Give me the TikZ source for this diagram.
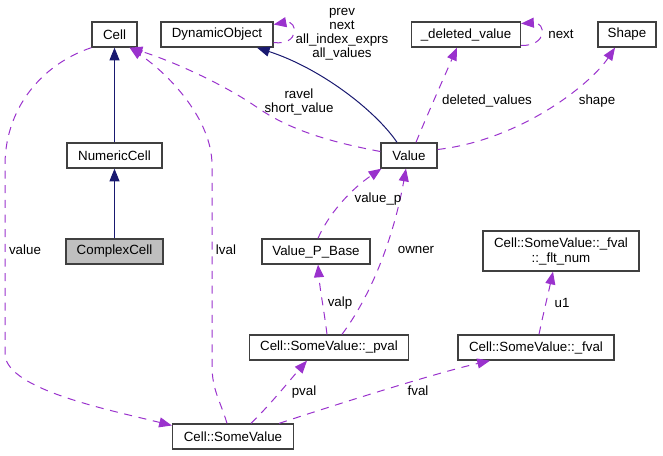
\documentclass[tikz,border=0pt]{standalone}
\usepackage{fontspec}
\setmainfont{Liberation Sans}
\usetikzlibrary{arrows.meta, positioning, calc}
\definecolor{edgenavy}{RGB}{25, 25, 112}
\definecolor{edgepurple}{RGB}{154, 50, 205}
\definecolor{boxline}{RGB}{64, 64, 64}
\definecolor{boxgrey}{RGB}{191, 191, 191}
\tikzset{
  cbox/.style={
    rectangle, draw=boxline, line width=1pt, fill=white,
    font=\fontsize{10}{11.25}\selectfont, align=center,
    inner sep=0pt, minimum height=18.75pt
  },
  gbox/.style={cbox, fill=boxgrey},
  wd/.style={minimum width=#1*0.75pt},
  inh/.style={-{Triangle[length=9.5pt,width=7.5pt]}, edgenavy, line width=0.75pt},
  mem/.style={-{Triangle[length=9.5pt,width=7.5pt]}, edgepurple, line width=0.75pt,
    dash pattern=on 6pt off 5pt},
  lbl/.style={font=\fontsize{10}{10.5}\selectfont, align=center, inner sep=0pt},
}
\begin{document}
\begin{tikzpicture}[x=0.75pt, y=-0.75pt]
    \useasboundingbox (0,0) rectangle (663,456);

    \node[cbox, wd=45]  (cell)    at (114.5,34.5) {Cell};
    \node[cbox, wd=112] (dyn)     at (217,34.5)   {DynamicObject};
    \node[cbox, wd=109] (delv)    at (466,34.5)   {\_deleted\_value};
    \node[cbox, wd=58]  (shape)   at (627,34.5)   {Shape};
    \node[cbox, wd=95]  (numeric) at (114.5,155.5) {NumericCell};
    \node[cbox, wd=56]  (value)   at (409,155.5)  {Value};
    \node[gbox, wd=97]  (complex) at (114.5,251.5) {ComplexCell};
    \node[cbox, wd=108] (vpb)     at (316,251.5)  {Value\_P\_Base};
    \node[cbox, wd=156, minimum height=30pt] (flt) at (561,251)
        {Cell::SomeValue::\_fval\\::\_flt\_num};
    \node[cbox, wd=159] (pval)    at (329,347.5)  {Cell::SomeValue::\_pval};
    \node[cbox, wd=156] (fval)    at (536,347.5)  {Cell::SomeValue::\_fval};
    \node[cbox, wd=121] (sv)      at (233,436.5)  {Cell::SomeValue};

    % inheritance
    \draw[inh] (numeric) -- (cell);
    \draw[inh] (complex) -- (numeric);
    \draw[inh] ($(value.north)+(-12,0)$) .. controls (375,110) and (320,68) .. ($(dyn.south)+(40,0)$);

    % members
    \draw[mem] ($(dyn.east)+(0,8)$) .. controls (300,46) and (298,20) .. ($(dyn.east)+(0,-10)$);
    \draw[mem] ($(delv.east)+(0,11)$) .. controls (548,46) and (546,22) .. ($(delv.east)+(0,-11)$);
    \draw[mem] ($(value.north)+(7,0)$) .. controls (425,120) and (445,75) .. ($(delv.south)+(-9,0)$);
    \draw[mem] ($(value.east)+(0,-6)$) .. controls (520,140) and (590,85) .. ($(shape.south)+(-12,0)$);
    \draw[mem] ($(value.west)+(0,-4)$) .. controls (330,142) and (290,130) .. (258,108)
        .. controls (225,85) and (175,62) .. ($(cell.south east)+(-8,0)$);
    \draw[mem] ($(sv.north)+(-6,0)$) .. controls (220,400) and (212,390) .. (212,365)
        -- (212,165) .. controls (212,120) and (170,75) .. ($(cell.south east)+(-8,0)$);
    \draw[mem] (cell.south west) .. controls (40,65) and (5,110) .. (5,165)
        -- (5,355) .. controls (8,390) and (110,410) .. ($(sv.west)+(0,-11)$);
    \draw[mem] ($(sv.north)+(18,0)$) .. controls (270,405) and (290,380) .. ($(pval.south)+(-22,0)$);
    \draw[mem] ($(sv.north east)+(-15,0)$) .. controls (350,400) and (440,372) .. ($(fval.south)+(-46,0)$);
    \draw[mem] ($(fval.north)+(3,0)$) .. controls (543,315) and (549,290) .. ($(flt.south)+(-8,0)$);
    \draw[mem] ($(pval.north)+(-2,0)$) .. controls (324,310) and (320,290) .. ($(vpb.south)+(2,0)$);
    \draw[mem] ($(vpb.north)+(2,0)$) .. controls (328,215) and (350,190) .. ($(value.south west)+(1,0)$);
    \draw[mem] ($(pval.north)+(13,0)$) .. controls (375,290) and (395,230) .. ($(value.south)+(-3,0)$);

    % edge labels
    \node[lbl] (l_dyn)    at (342,34)  {prev\\next\\all\_index\_exprs\\all\_values};
    \node[lbl] (l_next)   at (561,34)  {next};
    \node[lbl] (l_ravel)  at (299,101.5) {ravel\\short\_value};
    \node[lbl] (l_delv)   at (487,101) {deleted\_values};
    \node[lbl] (l_shape)  at (597,101) {shape};
    \node[lbl] (l_valuep) at (378,199) {value\_p};
    \node[lbl] (l_value)  at (25,250)  {value};
    \node[lbl] (l_lval)   at (226,250) {lval};
    \node[lbl] (l_owner)  at (416,250) {owner};
    \node[lbl] (l_valp)   at (340,303) {valp};
    \node[lbl] (l_u1)     at (562,303) {u1};
    \node[lbl] (l_pval)   at (304,392) {pval};
    \node[lbl] (l_fval)   at (418,391) {fval};
  \end{tikzpicture}
\end{document}
